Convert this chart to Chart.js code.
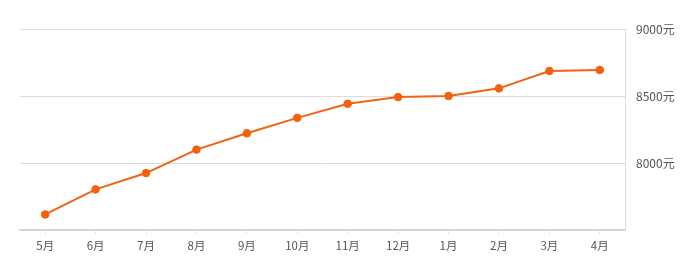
<!DOCTYPE html>
<html>
<head>
<meta charset="utf-8">
<script src="https://cdn.jsdelivr.net/npm/chart.js@4/dist/chart.umd.min.js"></script>
<style>
html,body{margin:0;padding:0;background:#fff;}
#wrap{width:698px;height:265px;position:relative;}
</style>
</head>
<body>
<div id="wrap"><canvas id="c" width="698" height="265"></canvas></div>
<script>
const categories = ['5月','6月','7月','8月','9月','10月','11月','12月','1月','2月','3月','4月'];
const prices = [7616, 7803, 7925, 8100, 8222, 8337, 8442, 8492, 8500, 8557, 8687, 8694];
const yTicks = [8000, 8500, 9000];
const yMin = 7500, yMax = 9000;

new Chart(document.getElementById('c'), {
  type: 'line',
  data: {
    labels: categories,
    datasets: [{
      data: prices,
      borderColor: '#ef6312',
      borderWidth: 2,
      pointBackgroundColor: '#f5600a',
      pointBorderColor: '#f5600a',
      pointBorderWidth: 1,
      pointRadius: 3.8,
      pointHoverRadius: 3.8,
      tension: 0,
      fill: false
    }]
  },
  options: {
    responsive: false,
    animation: false,
    devicePixelRatio: 1,
    layout: { padding: { left: 20, top: 29, right: 0, bottom: 0 } },
    plugins: { legend: { display: false }, tooltip: { enabled: false } },
    scales: {
      x: {
        offset: true,
        grid: {
          drawOnChartArea: false,
          drawTicks: true,
          tickLength: 4,
          color: '#e6e6e6',
          offset: false
        },
        border: { display: true, color: '#d4d4d4', width: 2 },
        ticks: {
          color: '#555',
          font: { family: '"Microsoft YaHei","Noto Sans CJK SC", sans-serif', size: 11.5 },
          padding: 5,
          maxRotation: 0,
          autoSkip: false
        },
        afterFit: (s) => { s.height = 35; }
      },
      y: {
        position: 'right',
        min: yMin,
        max: yMax,
        afterBuildTicks: (s) => { s.ticks = yTicks.map(v => ({ value: v })); },
        grid: {
          color: '#dcdcdc',
          lineWidth: 1,
          drawTicks: false
        },
        border: { display: true, color: '#dcdcdc', width: 1 },
        ticks: {
          color: '#555',
          font: { family: '"Microsoft YaHei","Noto Sans CJK SC", sans-serif', size: 12 },
          padding: 11,
          callback: (v) => v + '元'
        },
        afterFit: (s) => { s.width = 73; }
      }
    }
  }
});
</script>
</body>
</html>
